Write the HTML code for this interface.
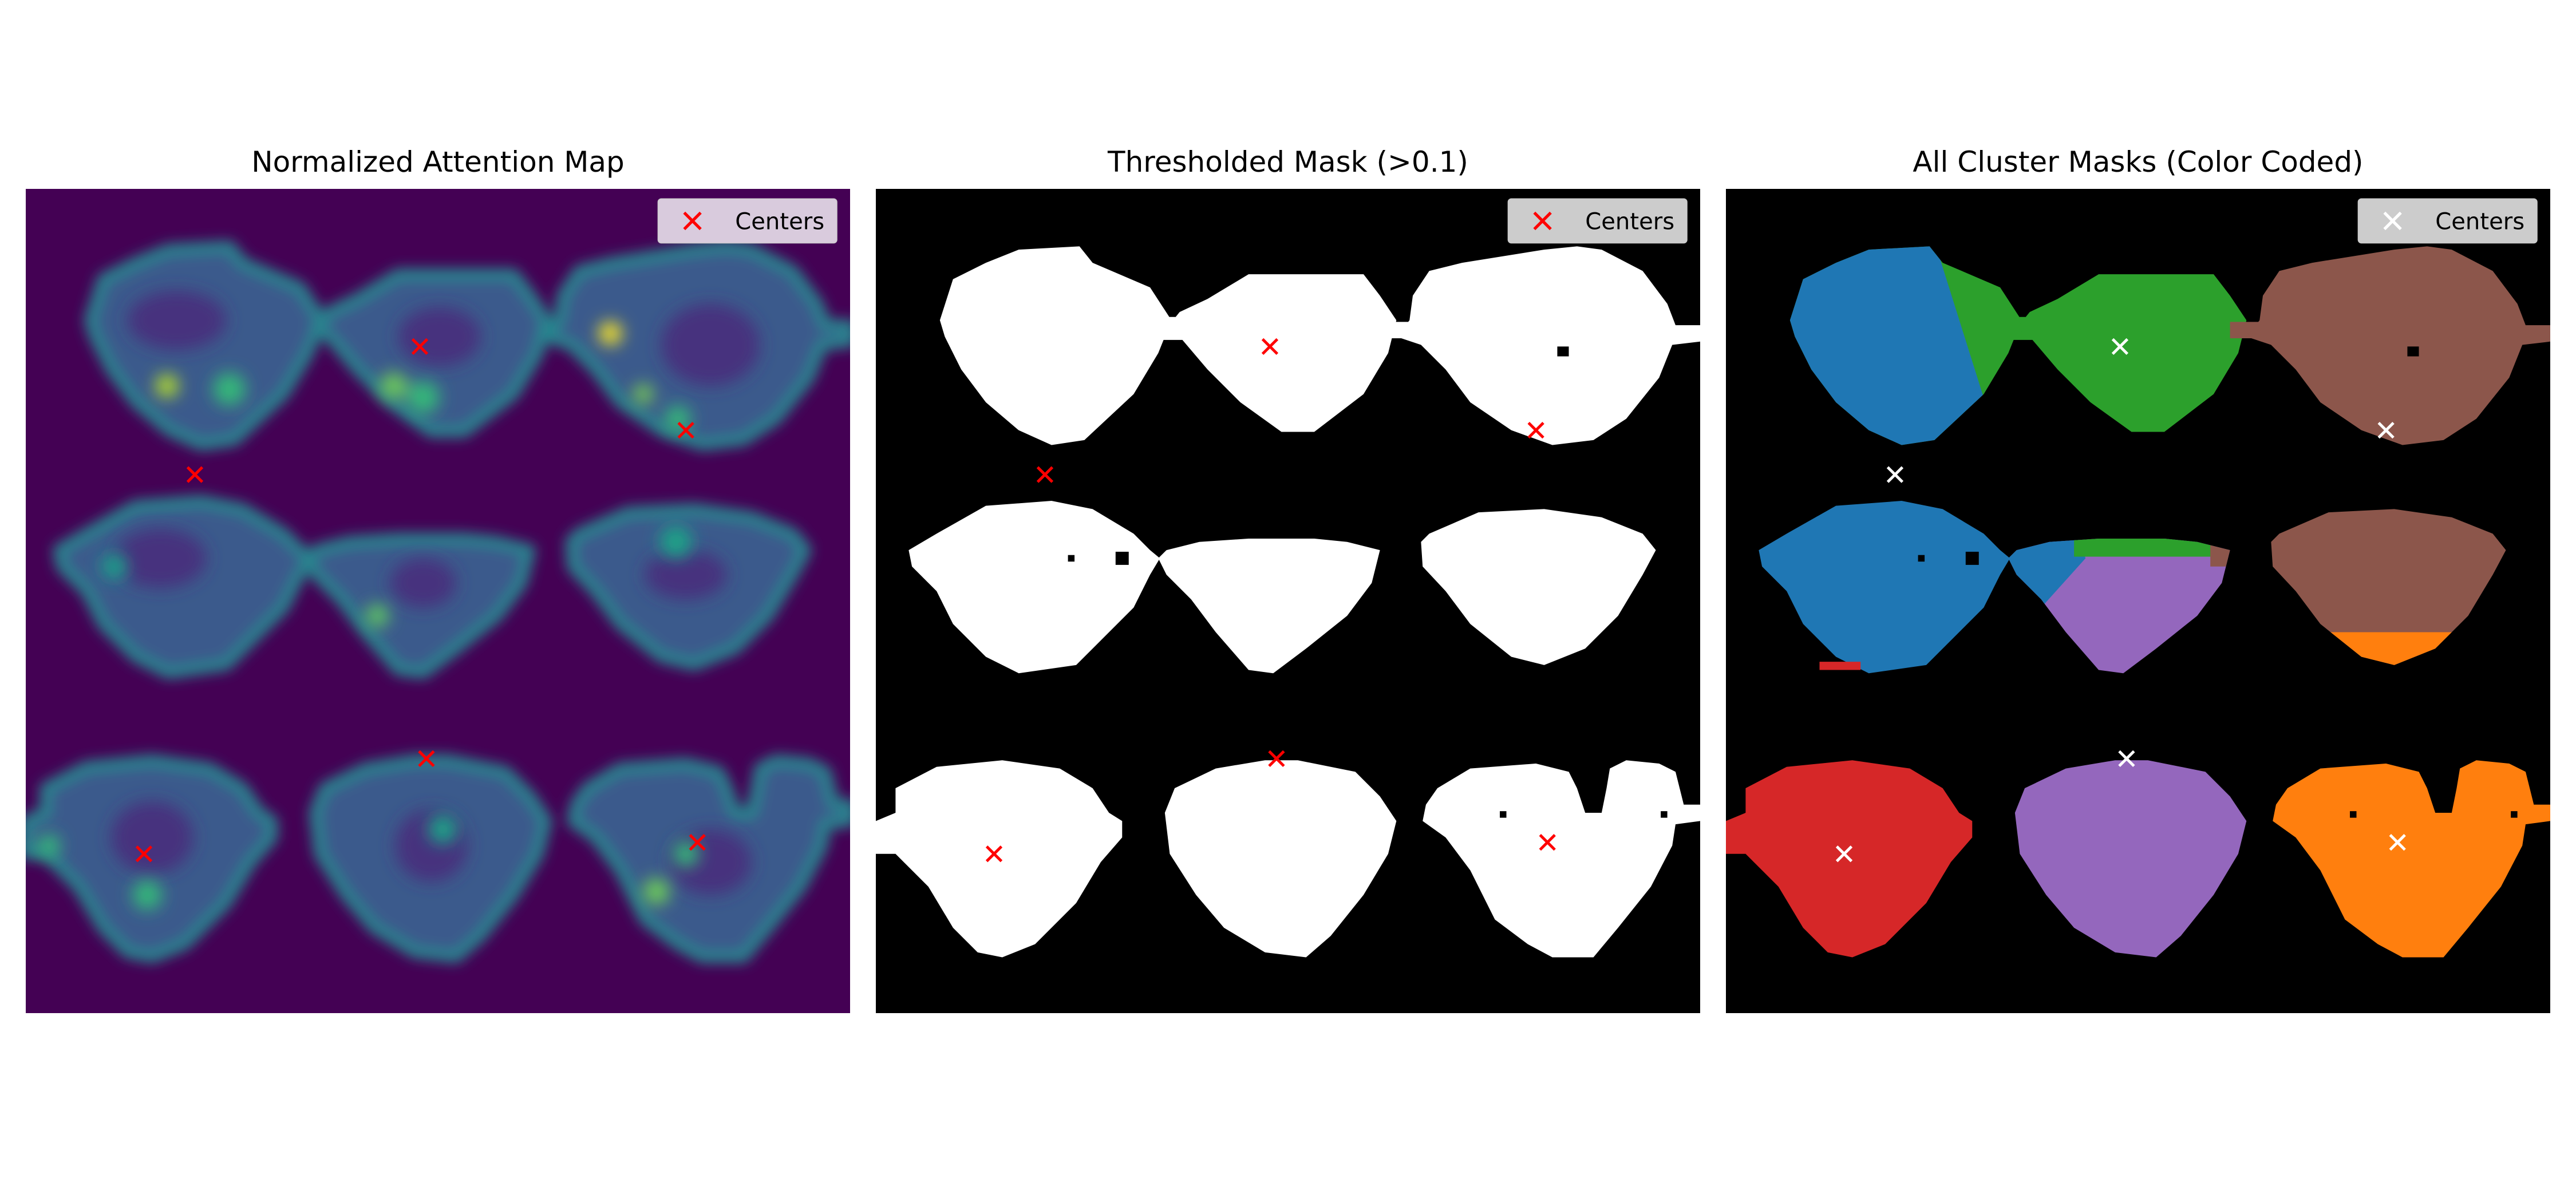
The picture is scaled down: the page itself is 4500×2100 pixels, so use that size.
<!DOCTYPE html>
<html><head><meta charset="utf-8"><style>
html,body{margin:0;padding:0;background:#fff;}
#fig{position:relative;width:4500px;height:2100px;background:#fff;font-family:"DejaVu Sans","Liberation Sans",sans-serif;}
.title{position:absolute;top:254px;width:1440px;text-align:center;font-size:50px;color:#000;}
.panel{position:absolute;top:330px;width:1440px;height:1440px;}
</style></head><body>
<div id="fig">
<div class="title" style="left:45px">Normalized Attention Map</div>
<div class="title" style="left:1530px">Thresholded Mask (&gt;0.1)</div>
<div class="title" style="left:3015px">All Cluster Masks (Color Coded)</div>
<svg class="panel" id="p1" style="left:45px" viewBox="0 0 502 502"></svg>
<svg class="panel" id="p2" style="left:1530px" viewBox="0 0 502 502"></svg>
<svg class="panel" id="p3" style="left:3015px" viewBox="0 0 502 502"></svg>
</div>
<script>
// cluster center positions (panel-local units, 0..502)
const centerX = [240, 402, 103, 244, 72, 409];
const centerY = [96, 147, 174, 347, 405, 398];

const NS = 'http://www.w3.org/2000/svg';
const blobs = {
A:"600,160 620,152 657,150 665,160 700,175 713,195 705,215 690,240 660,268 640,271 620,262 600,245 585,225 575,205 572,195 580,170",
AB:"700,193 720,193 720,207 700,207",
B:"735,182 760,167 830,167 840,180 850,195 845,215 830,240 800,263 780,263 755,245 735,225 718,205 710,200 718,190",
BC:"840,196 865,196 865,206 840,206",
C:"870,165 890,160 940,152 960,150 975,152 1000,165 1015,185 1020,198 1035,198 1035,208 1018,210 1010,230 990,255 970,268 945,271 920,262 895,245 880,225 865,210 850,205 858,195 860,180",
D:"570,325 600,308 640,305 665,310 690,325 700,335 706,340 700,350 690,370 670,390 655,405 620,410 600,400 580,380 570,360 555,345 553,335",
E:"710,335 730,330 760,328 800,328 820,330 840,335 835,355 820,375 795,395 775,410 760,408 740,385 725,365 710,350 705,340",
F:"870,325 900,312 940,310 975,315 1000,325 1008,335 1000,350 985,375 965,395 940,405 920,400 895,380 880,360 866,345 865,330",
G:"545,480 570,467 610,463 645,468 665,480 675,495 683,500 683,510 670,525 655,550 630,575 610,583 595,580 580,565 565,540 550,525 545,520 533,520 533,500 545,495",
H:"715,480 740,468 770,463 790,463 825,470 840,485 850,500 845,520 830,545 810,570 795,583 770,580 745,565 728,545 712,520 709,495",
I:"875,480 895,468 935,465 955,470 960,480 965,495 975,495 978,480 980,468 990,463 1010,465 1020,470 1025,490 1035,490 1035,500 1020,502 1018,515 1005,540 985,565 970,583 945,583 930,575 910,560 895,530 880,510 866,500 868,490"
};
const holes = [[948,211,7,6],[650,338,4,4],[679,336,8,8],[913,494,4,4],[1011,494,4,4]];

function el(parent, tag, attrs){const e=document.createElementNS(NS,tag);for(const k in attrs)e.setAttribute(k,attrs[k]);parent.appendChild(e);return e;}
function rect(p,x,y,w,h,f){return el(p,'rect',{x:x,y:y,width:w,height:h,fill:f});}

function drawMarkers(svg, color){
  const g = el(svg,'g',{});
  
  
  for(let i=0;i<centerX.length;i++){
    const cx=centerX[i], cy=centerY[i], s=4.5;
    const m = el(g,'path',{d:`M${cx-s},${cy-s}L${cx+s},${cy+s}M${cx-s},${cy+s}L${cx+s},${cy-s}`,stroke:color,'stroke-width':1.7,fill:'none'});
    
    
  }
}
function drawLegend(svg, bg, color){
  const g = el(svg,'g',{});
  
  
  el(g,'rect',{x:385,y:6,width:109,height:27,rx:2,fill:bg,stroke:'#cccccc','stroke-width':0.5});
  const s=5,cx=406,cy=19.5;
  el(g,'path',{d:`M${cx-s},${cy-s}L${cx+s},${cy+s}M${cx-s},${cy+s}L${cx+s},${cy-s}`,stroke:color,'stroke-width':1.8});
  const t = el(g,'text',{x:432,y:24.5,'font-size':14,'font-family':'DejaVu Sans, Liberation Sans, sans-serif',fill:'#000'});
  t.textContent='Centers';
  
  
}

// ---------- Panel 2 ----------
const p2=document.getElementById('p2');
rect(p2,0,0,502,502,'#000');
let g2=el(p2,'g',{transform:'translate(-533,-115)'});
for(const k in blobs) el(g2,'polygon',{points:blobs[k],fill:'#fff'});
holes.forEach(h=>rect(g2,h[0],h[1],h[2],h[3],'#000'));
drawMarkers(p2,'#ff0000');
drawLegend(p2,'#cccccc','#ff0000');

// ---------- Panel 3 ----------
const p3=document.getElementById('p3');
rect(p3,0,0,502,502,'#000');
const defs3=el(p3,'defs',{});
const cpBlue=el(defs3,'clipPath',{id:'cpBlue'});
el(cpBlue,'polygon',{points:'533,115 650,115 705,290 533,290'});
const cpE=el(defs3,'clipPath',{id:'cpE'});
el(cpE,'polygon',{points:blobs.E});
const cpF=el(defs3,'clipPath',{id:'cpF'});
el(cpF,'polygon',{points:blobs.F});
let g3=el(p3,'g',{transform:'translate(-533,-115)'});
const fills={A:'#2ca02c',AB:'#2ca02c',B:'#2ca02c',BC:'#8c564b',C:'#8c564b',D:'#1f77b4',E:'#9467bd',F:'#8c564b',G:'#d62728',H:'#9467bd',I:'#ff7f0e'};
for(const k in blobs) el(g3,'polygon',{points:blobs[k],fill:fills[k]});
el(g3,'polygon',{points:blobs.A,fill:'#1f77b4','clip-path':'url(#cpBlue)'});
const gE=el(g3,'g',{'clip-path':'url(#cpE)'});
el(gE,'polygon',{points:'700,320 745,320 752,340 725,370 715,380 700,380',fill:'#1f77b4'});
rect(gE,745,320,85,19,'#2ca02c');
rect(gE,828,330,15,15,'#8c564b');
const gF=el(g3,'g',{'clip-path':'url(#cpF)'});
rect(gF,860,385,160,30,'#ff7f0e');
rect(g3,590,403,25,5,'#d62728');
holes.forEach(h=>rect(g3,h[0],h[1],h[2],h[3],'#000'));
drawMarkers(p3,'#ffffff');
drawLegend(p3,'#cccccc','#ffffff');

// ---------- Panel 1 ----------
const p1=document.getElementById('p1');
const defs1=el(p1,'defs',{});
const f=el(defs1,'filter',{id:'blur',x:'-20%',y:'-20%',width:'140%',height:'140%'});
el(f,'feGaussianBlur',{stdDeviation:4});
const f2=el(defs1,'filter',{id:'blur2',x:'-50%',y:'-50%',width:'200%',height:'200%'});
el(f2,'feGaussianBlur',{stdDeviation:5});
rect(p1,0,0,502,502,'#440154');
let g1=el(p1,'g',{transform:'translate(-533,-115)',filter:'url(#blur)'});
for(const k in blobs){ if(k==='AB'||k==='BC') continue;
  el(g1,'polygon',{points:blobs[k],fill:'#3b5a8c',stroke:'#25858e','stroke-width':7,'stroke-linejoin':'round'});
}
const dark=[[625,195,30,18],[785,205,25,18],[950,210,30,25],[615,340,28,18],[775,355,20,15],[935,350,25,15],[610,510,25,22],[780,515,22,22],[950,525,25,20]];
const gd=el(p1,'g',{transform:'translate(-533,-115)',filter:'url(#blur2)'});
dark.forEach(d=>el(gd,'ellipse',{cx:d[0],cy:d[1],rx:d[2],ry:d[3],fill:'#46307e'}));
const spots=[[102,235,7,'#b5de2b'],[140,237,10,'#35b779'],[372,203,7,'#fde725'],[392,240,6,'#7ad151'],[413,255,8,'#35b779'],[240,235,8,'#6ece58'],[258,242,10,'#35b779'],[400,543,8,'#6ece58'],[418,520,8,'#35b779'],[230,375,7,'#5ec962'],[90,545,9,'#35b779'],[270,505,9,'#1fa187'],[70,345,8,'#1f9e89'],[412,330,10,'#1fa187'],[30,515,7,'#35b779']];
const gs=el(p1,'g',{transform:'translate(-16,-115)',filter:'url(#blur2)'});
spots.forEach(s=>el(gs,'circle',{cx:s[0],cy:s[1],r:s[2],fill:s[3]}));
drawMarkers(p1,'#ff0000');
drawLegend(p1,'#d9cbdd','#ff0000');
</script>
</body></html>
